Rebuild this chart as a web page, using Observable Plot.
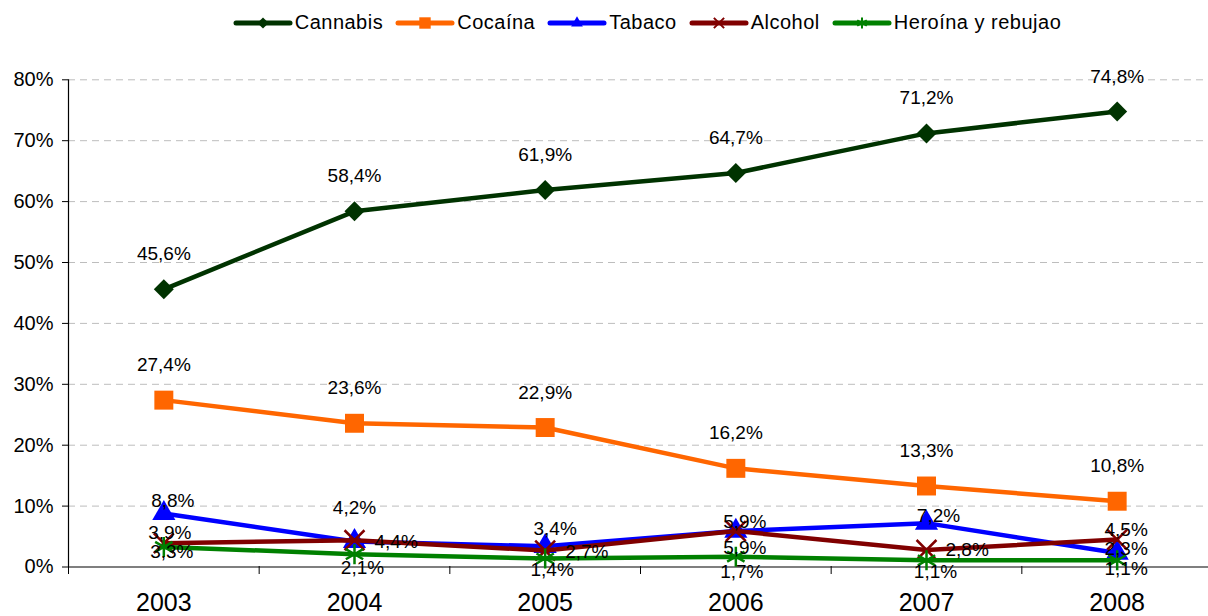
<!DOCTYPE html>
<html>
<head>
<meta charset="utf-8">
<script src="https://cdn.jsdelivr.net/npm/d3@7"></script>
<script src="https://cdn.jsdelivr.net/npm/@observablehq/plot@0.6"></script>
<style>
  html, body { margin: 0; padding: 0; background: #fff; }
  body { width: 1208px; height: 616px; overflow: hidden; font-family: "Liberation Sans", Arial, sans-serif; }
  #legend { height: 45px; display: flex; justify-content: center; align-items: center; padding-left: 86px; box-sizing: border-box; font-size: 20px; letter-spacing: 0.5px; color: #000; }
  .item { display: flex; align-items: center; margin: 0 6px; }
  .item svg { margin-right: 2px; }
</style>
</head>
<body>
<div id="legend"></div>
<div id="chart"></div>
<script>
const years = [2003, 2004, 2005, 2006, 2007, 2008];
const seriesNames = ["Cannabis", "Cocaína", "Tabaco", "Alcohol", "Heroína y rebujao"];
const cannabis = [45.6, 58.4, 61.9, 64.7, 71.2, 74.8];
const cocaina = [27.4, 23.6, 22.9, 16.2, 13.3, 10.8];
const tabaco = [8.8, 4.2, 3.4, 5.9, 7.2, 2.3];
const alcohol = [3.9, 4.4, 2.7, 5.9, 2.8, 4.5];
const heroina = [3.3, 2.1, 1.4, 1.7, 1.1, 1.1];
const yTicks = [0, 10, 20, 30, 40, 50, 60, 70, 80];

const seriesValues = [cannabis, cocaina, tabaco, alcohol, heroina];
const colors = ["#003300", "#FF6600", "#0000FF", "#800000", "#008000"];
const symbols = ["diamond2", "square", "triangle", "times", "asterisk"];
const symbolR = [9, 10.7, 8.6, 9.1, 9.5];
const filled = [true, true, true, false, false];

// label placement offsets [dx, dy, anchor]
const A = [0, -35, "middle"];
const labelPlacement = [
  [A, A, A, A, A, A],
  [A, A, A, A, A, A],
  [[9, -13, "middle"], [0, -34, "middle"], [10, -17, "middle"], [9, -9, "middle"], [12, -7, "middle"], [9, -4, "middle"]],
  [[6, -10, "middle"], [20, 2, "start"], [20, 1, "start"], [9, 17, "middle"], [19, 0, "start"], [9, -10, "middle"]],
  [[8, 5, "middle"], [8, 14, "middle"], [7, 11, "middle"], [6, 15, "middle"], [9, 12, "middle"], [9, 9, "middle"]]
];

const fmt = v => v.toFixed(1).replace(".", ",") + "%";

// Legend
const legend = document.getElementById("legend");
const legendSym = [d3.symbolDiamond2, d3.symbolSquare, d3.symbolTriangle, d3.symbolTimes, d3.symbolAsterisk];
const legendSize = [80, 130, 60, 70, 85];
seriesNames.forEach((name, i) => {
  const item = document.createElement("div");
  item.className = "item";
  const ns = "http://www.w3.org/2000/svg";
  const svg = document.createElementNS(ns, "svg");
  svg.setAttribute("width", 60);
  svg.setAttribute("height", 20);
  const line = document.createElementNS(ns, "line");
  line.setAttribute("x1", 3); line.setAttribute("x2", 57);
  line.setAttribute("y1", 10); line.setAttribute("y2", 10);
  line.setAttribute("stroke", colors[i]);
  line.setAttribute("stroke-width", 5);
  line.setAttribute("stroke-linecap", "round");
  svg.appendChild(line);
  const p = document.createElementNS(ns, "path");
  p.setAttribute("d", d3.symbol(legendSym[i], legendSize[i])());
  p.setAttribute("transform", "translate(30,10)");
  if (filled[i]) { p.setAttribute("fill", colors[i]); }
  else { p.setAttribute("fill", "none"); p.setAttribute("stroke", colors[i]); p.setAttribute("stroke-width", 2); }
  svg.appendChild(p);
  item.appendChild(svg);
  const t = document.createElement("span");
  t.textContent = name;
  item.appendChild(t);
  legend.appendChild(item);
});

// Data table
const rows = [];
seriesNames.forEach((s, i) => years.forEach((yr, j) => rows.push({series: s, si: i, year: yr, value: seriesValues[i][j], j})));

const marks = [
  Plot.ruleY(yTicks.filter(t => t > 0), {stroke: "#bdbdbd", strokeWidth: 1, strokeDasharray: "7,5"}),
  Plot.axisY({ticks: yTicks, tickSize: 6, tickPadding: 9, fontSize: 20, tickFormat: d => d + "%", label: null, stroke: "#000"}),
  Plot.axisX({ticks: years.map(y => y - 0.5), tickSize: 8, tickFormat: () => "", label: null, stroke: "#000"}),
  Plot.axisX({ticks: years, tickSize: 0, tickPadding: 27, fontSize: 25, tickFormat: d => String(d), label: null}),
  Plot.ruleY([0], {stroke: "#000", strokeWidth: 1.2}),
  Plot.ruleX([years[0] - 0.5], {y1: 0, y2: yTicks[yTicks.length - 1], stroke: "#000", strokeWidth: 1.2})
];

seriesNames.forEach((s, i) => {
  const data = rows.filter(r => r.si === i);
  marks.push(Plot.line(data, {x: "year", y: "value", stroke: colors[i], strokeWidth: 4.5, strokeLinejoin: "round"}));
  marks.push(Plot.dot(data, filled[i]
    ? {x: "year", y: "value", symbol: () => symbols[i], r: symbolR[i], fill: colors[i], stroke: "none"}
    : {x: "year", y: "value", symbol: () => symbols[i], r: symbolR[i], fill: "none", stroke: colors[i], strokeWidth: 2.5}));
});

seriesNames.forEach((s, i) => {
  rows.filter(r => r.si === i).forEach(r => {
    const [dx, dy, anchor] = labelPlacement[i][r.j];
    marks.push(Plot.text([r], {x: "year", y: "value", text: d => fmt(d.value), dx, dy, textAnchor: anchor, fontSize: 19, fill: "#000"}));
  });
});

const chart = Plot.plot({
  width: 1208,
  height: 571,
  marginLeft: 68,
  marginRight: 0,
  marginTop: 34,
  marginBottom: 50,
  x: {type: "linear", domain: [years[0] - 0.5, years[years.length - 1] + 0.5], range: [68, 1212], label: null},
  y: {domain: [0, 80], range: [521.5, 34.3], label: null},
  symbol: {type: "identity"},
  style: {fontFamily: "'Liberation Sans', Arial, sans-serif", color: "#000", background: "#fff", overflow: "hidden"},
  marks
});
document.getElementById("chart").appendChild(chart);
</script>
</body>
</html>
